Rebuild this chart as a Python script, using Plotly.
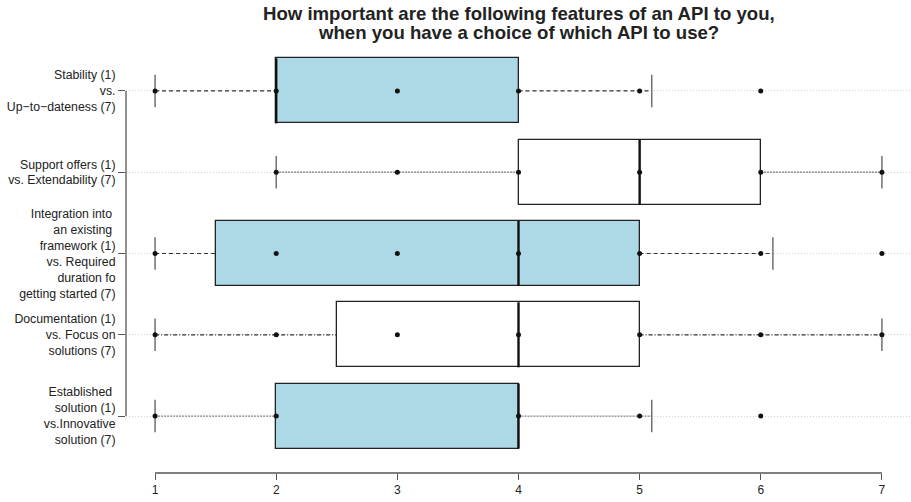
import plotly.graph_objects as go

# ---- data ----
labels = [
    "Stability (1)<br>vs.<br>Up\u2212to\u2212dateness (7)",
    "Support offers (1)<br>vs. Extendability (7)",
    "Integration into\u00a0<br>an existing\u00a0<br>framework (1)<br>vs. Required<br>duration fo<br>getting started (7)",
    "Documentation (1)<br>vs. Focus on<br>solutions (7)",
    "Established\u00a0<br>solution (1)<br>vs.Innovative<br>solution (7)",
]
positions = [5, 4, 3, 2, 1]
q1 = [2, 4, 1.5, 2.5, 2]
median = [2, 5, 4, 4, 4]
q3 = [4, 6, 5, 5, 4]
whisk_lo = [1, 2, 1, 1, 1]
whisk_hi = [5.1, 7, 6.1, 7, 5.1]
points = [
    [1, 2, 3, 4, 5, 6],
    [2, 3, 4, 5, 6, 7],
    [1, 2, 3, 4, 5, 6, 7],
    [1, 2, 3, 4, 5, 6, 7],
    [1, 2, 4, 5, 6],
]
fills = ["lightblue", "white", "lightblue", "white", "lightblue"]
whisk_dash = ["4px,3px", "2px,1px", "4px,3px", "4px,2px,1px,2px", "2px,1px"]
whisk_color = ["#333", "#777", "#333", "#333", "#888"]
x_ticks = [1, 2, 3, 4, 5, 6, 7]
title_lines = ["How important are the following features of an API to you,",
               "when you have a choice of which API to use?"]

BOXW = 0.8
CAPH = 0.2

fig = go.Figure()

# whiskers
for i, y in enumerate(positions):
    fig.add_trace(go.Scatter(
        x=[whisk_lo[i], q1[i], None, q3[i], whisk_hi[i]],
        y=[y, y, None, y, y],
        mode="lines",
        line=dict(color=whisk_color[i], width=1.2, dash=whisk_dash[i]),
        hoverinfo="skip", showlegend=False))

# boxes
fig.add_trace(go.Bar(
    y=positions,
    x=[b - a for a, b in zip(q1, q3)],
    base=q1,
    orientation="h",
    width=BOXW,
    marker=dict(color=fills, line=dict(color="#222", width=1.3)),
    showlegend=False, hoverinfo="skip"))

# medians
mx, my = [], []
for i, y in enumerate(positions):
    mx += [median[i], median[i], None]
    my += [y - BOXW / 2, y + BOXW / 2, None]
fig.add_trace(go.Scatter(x=mx, y=my, mode="lines",
                         line=dict(color="#111", width=2.4),
                         hoverinfo="skip", showlegend=False))

# whisker caps
cx, cy = [], []
for i, y in enumerate(positions):
    for v in (whisk_lo[i], whisk_hi[i]):
        cx += [v, v, None]
        cy += [y - CAPH, y + CAPH, None]
fig.add_trace(go.Scatter(x=cx, y=cy, mode="lines",
                         line=dict(color="#666", width=1.4),
                         hoverinfo="skip", showlegend=False))

# points
px, py = [], []
for i, y in enumerate(positions):
    for v in points[i]:
        px.append(v)
        py.append(y)
fig.add_trace(go.Scatter(x=px, y=py, mode="markers",
                         marker=dict(color="#111", size=5),
                         hoverinfo="skip", showlegend=False))

# axis lines (R style: only between first and last tick)
fig.add_shape(type="line", xref="x", yref="paper", x0=x_ticks[0], x1=x_ticks[-1],
              y0=0, y1=0, line=dict(color="#555", width=1.3))
fig.add_shape(type="line", xref="paper", yref="y", x0=0, x1=0,
              y0=min(positions), y1=max(positions), line=dict(color="#555", width=1.3))

# title lines as annotations
for txt, shift in zip(title_lines, [21, 2]):
    fig.add_annotation(text="<b>" + txt + "</b>", xref="paper", yref="paper",
                       x=0.5, y=1, xanchor="center", yanchor="middle", yshift=shift,
                       showarrow=False, font=dict(size=18.6, color="#222"))

fig.update_layout(
    width=911, height=502,
    margin=dict(l=126, r=0, t=34, b=29),
    paper_bgcolor="white", plot_bgcolor="white",
    font=dict(family="Liberation Sans, Arial, sans-serif", color="#222", size=12),
    xaxis=dict(range=[0.76, 7.24], tickvals=x_ticks, ticks="outside", ticklen=6,
               tickcolor="#555", tickwidth=1.3, showline=False, showgrid=False,
               zeroline=False, tickfont=dict(size=12), automargin=False),
    yaxis=dict(range=[0.3, 5.7], tickvals=positions, ticktext=labels,
               ticks="outside", ticklen=7, tickcolor="#555", tickwidth=1.3,
               showline=False, showgrid=True, gridcolor="#d0d0d0", griddash="1px,2px",
               gridwidth=1, zeroline=False, tickfont=dict(size=12.3), automargin=False),
    bargap=0,
)

fig.write_html("out.html", config={"displayModeBar": False},
               post_script="document.body.style.margin='0px';")
